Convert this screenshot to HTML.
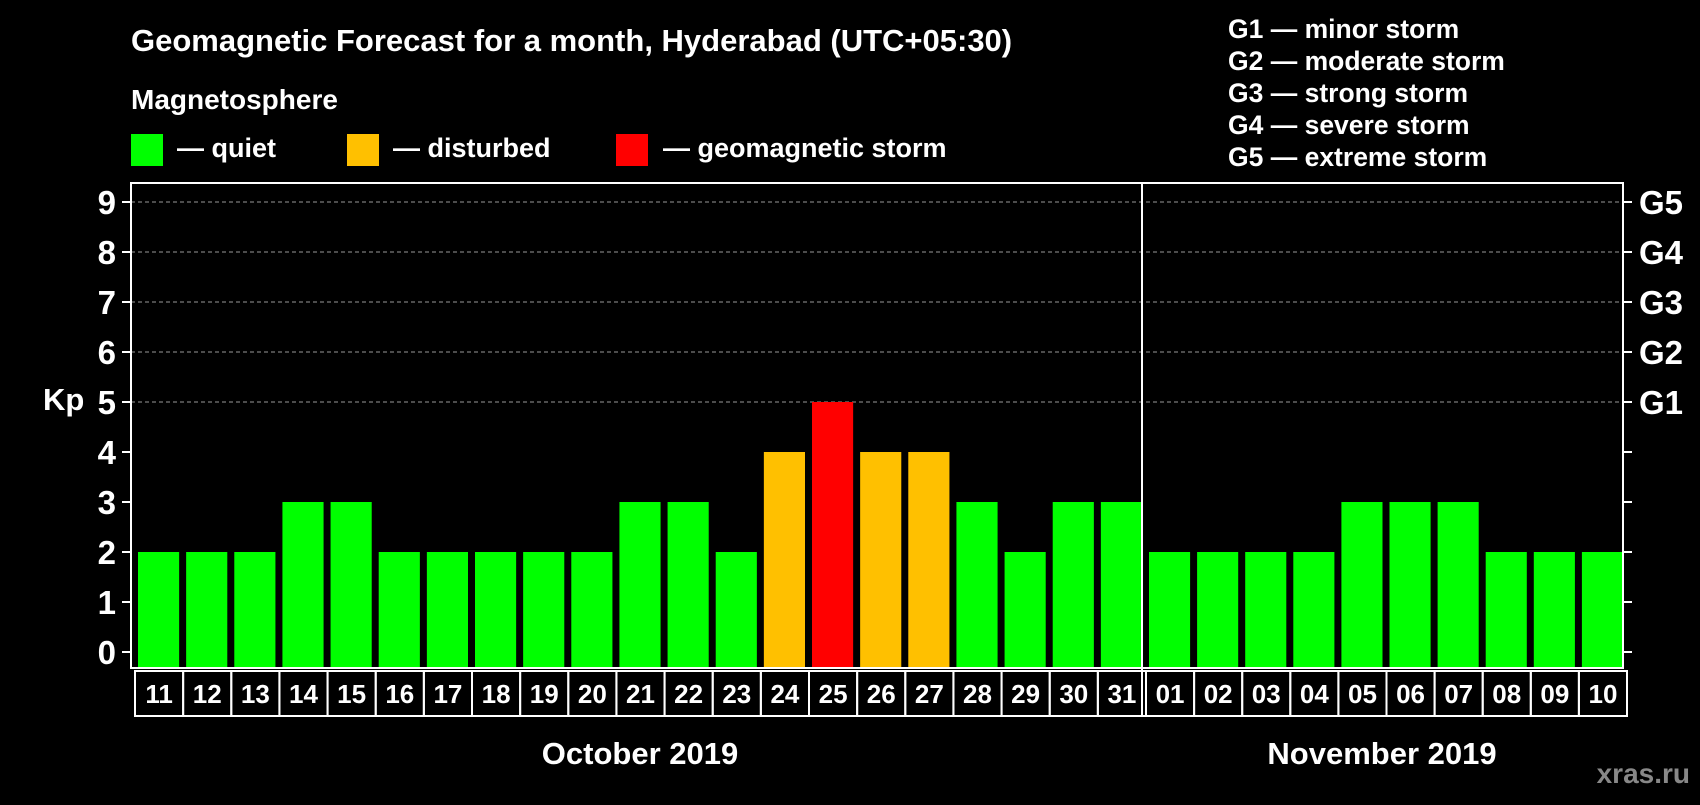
<!DOCTYPE html>
<html><head><meta charset="utf-8"><style>
body{margin:0;background:#000;width:1700px;height:800px;overflow:hidden;font-family:"Liberation Sans",sans-serif;font-weight:bold;color:#fff}
svg text{font-family:"Liberation Sans",sans-serif;font-weight:bold;fill:#fff}
</style></head><body>
<svg id="c" width="1700" height="800">
<text x="131" y="51" font-size="31">Geomagnetic Forecast for a month, Hyderabad (UTC+05:30)</text>
<text x="131" y="109" font-size="28">Magnetosphere</text>
<rect x="131" y="134" width="32" height="32" fill="#00ff00"/>
<text x="177" y="157" font-size="27">— quiet</text>
<rect x="347" y="134" width="32" height="32" fill="#ffc000"/>
<text x="393" y="157" font-size="27">— disturbed</text>
<rect x="616" y="134" width="32" height="32" fill="#ff0000"/>
<text x="663" y="157" font-size="27">— geomagnetic storm</text>
<g font-size="26.5">
<text x="1228" y="38">G1 — minor storm</text>
<text x="1228" y="70">G2 — moderate storm</text>
<text x="1228" y="102">G3 — strong storm</text>
<text x="1228" y="134">G4 — severe storm</text>
<text x="1228" y="166">G5 — extreme storm</text>
</g>
<text x="43" y="410" font-size="31">Kp</text>
<text x="640" y="764" font-size="31" text-anchor="middle">October 2019</text>
<text x="1382" y="764" font-size="31" text-anchor="middle">November 2019</text>
<text x="1690" y="783" font-size="28" text-anchor="end" style="fill:#888">xras.ru</text>
<g id="plot"></g>
</svg>
<script>
const days=["11","12","13","14","15","16","17","18","19","20","21","22","23","24","25","26","27","28","29","30","31","01","02","03","04","05","06","07","08","09","10"];
const kp=[2,2,2,3,3,2,2,2,2,2,3,3,2,4,5,4,4,3,2,3,3,2,2,2,2,3,3,3,2,2,2];
const yTicks=[0,1,2,3,4,5,6,7,8,9];
const gLabels=["G1","G2","G3","G4","G5"];
const NS="http://www.w3.org/2000/svg";
const g=document.getElementById('plot');
const L=131,R=1623,T=183,B=668,DIV=1142,octN=21;
const y=v=>652-v*50;
const cellX=i=>i<octN?L+i*(DIV-L)/octN:DIV+(i-octN)*(R-DIV)/(days.length-octN);
const cellW=i=>i<octN?(DIV-L)/octN:(R-DIV)/(days.length-octN);
function mk(t,a){const e=document.createElementNS(NS,t);for(const k in a)e.setAttribute(k,a[k]);g.appendChild(e);return e;}
yTicks.forEach(v=>{
  if(v>=5){const l=mk('line',{x1:L,x2:R,y1:y(v),y2:y(v),stroke:'#999','stroke-dasharray':'4,3','stroke-width':1});
  
  }
  const t1=mk('line',{x1:L-9,x2:L,y1:y(v),y2:y(v),stroke:'#fff','stroke-width':2});
  
  
  const t2=mk('line',{x1:R,x2:R+9,y1:y(v),y2:y(v),stroke:'#fff','stroke-width':2});
  
  
  const tx=mk('text',{x:116,y:y(v)+12,'font-size':33,'text-anchor':'end'});tx.textContent=v;
  
  
});
gLabels.forEach((s,i)=>{const tx=mk('text',{x:1639,y:y(5+i)+12,'font-size':33});tx.textContent=s;
  
  });
kp.forEach((v,i)=>{
  const w=cellW(i),x=cellX(i),gap=6;
  const col=v>=5?'#ff0000':v>=4?'#ffc000':'#00ff00';
  const b=mk('rect',{x:x+gap+1,y:y(v),width:w-gap-1,height:B-y(v),fill:col});
  
  
  const bx=mk('rect',{x:x+4,y:671,width:w,height:45,fill:'none',stroke:'#fff','stroke-width':2});
  
  
  const t=mk('text',{x:x+4+w/2,y:703,'font-size':26,'text-anchor':'middle'});t.textContent=days[i];
  
  
});
const fr=mk('rect',{x:L,y:T,width:R-L,height:B-T,fill:'none',stroke:'#fff','stroke-width':2});


const dv=mk('line',{x1:DIV,x2:DIV,y1:T,y2:B+48,stroke:'#fff','stroke-width':2});


</script>
</body></html>
